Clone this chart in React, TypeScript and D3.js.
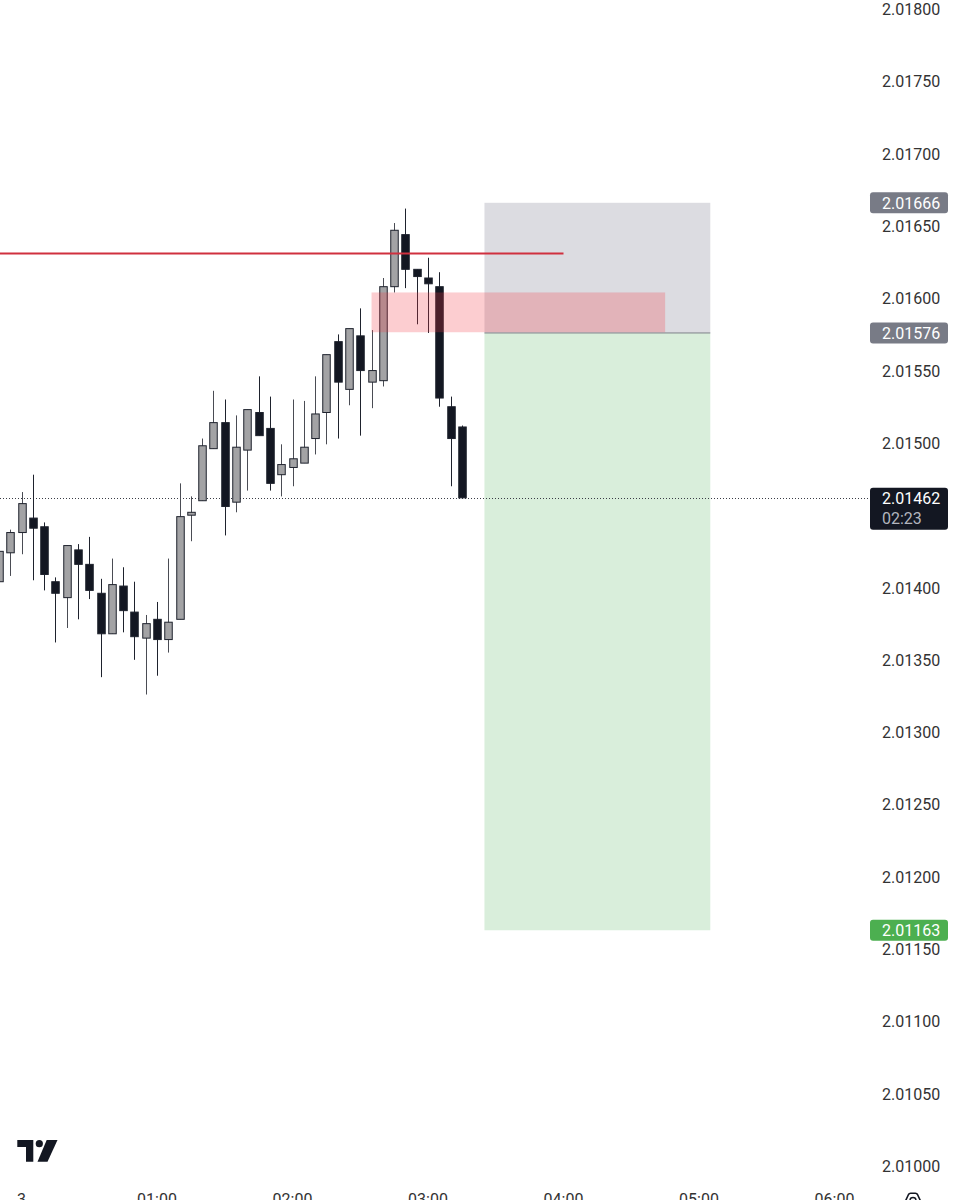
import React from "react";
import * as d3 from "d3";

// Candle index (5-minute bars; 0 = 00:00), OHLC prices
const candleIndex = [-2, -1, 0, 1, 2, 3, 4, 5, 6, 7, 8, 9, 10, 11, 12, 13, 14, 15, 16, 17, 18, 19, 20, 21, 22, 23, 24, 25, 26, 27, 28, 29, 30, 31, 32, 33, 34, 35, 36, 37, 38, 39];
const opens = [2.01404, 2.01424, 2.01438, 2.01448, 2.01442, 2.01404, 2.01393, 2.01426, 2.01416, 2.01396, 2.01368, 2.01401, 2.01383, 2.01365, 2.01378, 2.01364, 2.01378, 2.0145, 2.0146, 2.01496, 2.01514, 2.01459, 2.01495, 2.01521, 2.0151, 2.01478, 2.01483, 2.01486, 2.01503, 2.01521, 2.0157, 2.01537, 2.01574, 2.01542, 2.01543, 2.01608, 2.01644, 2.0162, 2.01614, 2.01608, 2.01525, 2.01511];
const highs = [2.01428, 2.0144, 2.01466, 2.01478, 2.01445, 2.01407, 2.01429, 2.0143, 2.01435, 2.01406, 2.0142, 2.01414, 2.01404, 2.01381, 2.0139, 2.0142, 2.01472, 2.01463, 2.01503, 2.01536, 2.0153, 2.01519, 2.01523, 2.01546, 2.01532, 2.01499, 2.0153, 2.01529, 2.01546, 2.01561, 2.01575, 2.01579, 2.01593, 2.01578, 2.01614, 2.01652, 2.01662, 2.0162, 2.01628, 2.01618, 2.01532, 2.01512];
const lows = [2.01401, 2.01408, 2.01423, 2.01405, 2.01398, 2.01362, 2.01372, 2.01378, 2.01392, 2.01338, 2.01368, 2.01369, 2.0135, 2.01326, 2.01339, 2.01355, 2.01378, 2.01432, 2.0146, 2.01496, 2.01436, 2.01452, 2.01467, 2.01505, 2.01467, 2.01463, 2.0147, 2.01486, 2.01492, 2.01499, 2.01503, 2.01526, 2.01505, 2.01524, 2.01539, 2.01604, 2.01607, 2.01582, 2.01576, 2.01525, 2.0147, 2.01462];
const closes = [2.01425, 2.01438, 2.01458, 2.01441, 2.01409, 2.01396, 2.01429, 2.01416, 2.01398, 2.01368, 2.01402, 2.01384, 2.01366, 2.01375, 2.01364, 2.01376, 2.01449, 2.01452, 2.01498, 2.01514, 2.01456, 2.01497, 2.01523, 2.01505, 2.01472, 2.01485, 2.01489, 2.01497, 2.0152, 2.01561, 2.01542, 2.01579, 2.0155, 2.0155, 2.01608, 2.01647, 2.0162, 2.01615, 2.0161, 2.01531, 2.01503, 2.01462];

// Price axis ticks
const priceTicks = [2.018, 2.0175, 2.017, 2.0165, 2.016, 2.0155, 2.015, 2.014, 2.0135, 2.013, 2.0125, 2.012, 2.0115, 2.011, 2.0105, 2.01];
// Time axis ticks (bar index) and labels
const timeTickIndex = [0, 12, 24, 36, 48, 60, 72];
const timeTickLabels = ["3", "01:00", "02:00", "03:00", "04:00", "05:00", "06:00"];

// Drawings
const resistanceLevel = 2.01631;
const resistanceEndIndex = 48;
const zoneTop = 2.01604;
const zoneBottom = 2.015765;
const zoneStartIndex = 31;
const zoneEndIndex = 57;
const stopPrice = 2.01666;
const entryPrice = 2.01576;
const targetPrice = 2.01163;
const positionStartIndex = 41;
const positionEndIndex = 61;
const lastPrice = 2.01462;
const countdown = "02:23";

const W = 955;
const H = 1200;
const plotRight = 870;

export default function App() {
  const y = d3.scaleLinear().domain([2.01, 2.018]).range([1166, 9]);
  const x = d3.scaleLinear().domain([0, 12]).range([21.5, 157]);
  const bodyW = 7.5;
  const font = "Roboto, 'Noto Sans', sans-serif";

  const candles = candleIndex.map((idx, k) => ({
    idx,
    o: opens[k],
    h: highs[k],
    l: lows[k],
    c: closes[k],
  }));

  const tag = (price: number, fill: string, label: string) => (
    <g key={label}>
      <rect x={870} y={y(price) - 10.5} width={78} height={21} rx={3} fill={fill} />
      <text x={882} y={y(price) + 6} fontSize={16} fill="#ffffff" fontFamily={font}>
        {label}
      </text>
    </g>
  );

  return (
    <svg
      width={W}
      height={H}
      style={{ position: "absolute", left: 0, top: 0, background: "#ffffff" }}
    >
      <rect x={0} y={0} width={W} height={H} fill="#ffffff" />
      <defs>
        <clipPath id="plot">
          <rect x={0} y={0} width={plotRight} height={1185} />
        </clipPath>
      </defs>

      <g clipPath="url(#plot)">
        {/* Position tool */}
        <rect
          x={x(positionStartIndex)}
          y={y(stopPrice)}
          width={x(positionEndIndex) - x(positionStartIndex)}
          height={y(entryPrice) - y(stopPrice)}
          fill="#dcdce1"
        />
        <rect
          x={x(positionStartIndex)}
          y={y(entryPrice)}
          width={x(positionEndIndex) - x(positionStartIndex)}
          height={y(targetPrice) - y(entryPrice)}
          fill="#d9eedb"
        />
        <line
          x1={x(positionStartIndex)}
          x2={x(positionEndIndex)}
          y1={y(entryPrice)}
          y2={y(entryPrice)}
          stroke="#7d8089"
          strokeWidth={1}
        />

        {/* Last price dotted line */}
        <line
          x1={0}
          x2={plotRight}
          y1={Math.round(y(lastPrice)) + 0.5}
          y2={Math.round(y(lastPrice)) + 0.5}
          stroke="#3a3d46"
          strokeWidth={1}
          strokeDasharray="1 2"
        />

        {/* Candles */}
        {candles.map((d) => {
          const up = d.c >= d.o;
          const cx = Math.round(x(d.idx)) + 0.5;
          const top = y(Math.max(d.o, d.c));
          const bot = y(Math.min(d.o, d.c));
          const bh = Math.max(bot - top, 2);
          return (
            <g key={d.idx}>
              <line
                x1={cx}
                x2={cx}
                y1={y(d.h)}
                y2={y(d.l)}
                stroke={up ? "#4a4c54" : "#1e222d"}
                strokeWidth={1}
              />
              <rect
                x={cx - bodyW / 2}
                y={top}
                width={bodyW}
                height={bh}
                fill={up ? "#a3a3a5" : "#131722"}
                stroke="#1e222d"
                strokeWidth={1}
              />
            </g>
          );
        })}

        {/* Zone */}
        <rect
          x={x(zoneStartIndex)}
          y={y(zoneTop)}
          width={x(zoneEndIndex) - x(zoneStartIndex)}
          height={y(zoneBottom) - y(zoneTop)}
          fill="rgba(242, 54, 69, 0.25)"
        />

        {/* Resistance line */}
        <line
          x1={0}
          x2={x(resistanceEndIndex)}
          y1={y(resistanceLevel)}
          y2={y(resistanceLevel)}
          stroke="#d0303f"
          strokeWidth={2}
        />
      </g>

      {/* Price axis labels */}
      {priceTicks.map((p) => (
        <text key={p} x={882} y={y(p) + 6} fontSize={16} fill="#333333" fontFamily={font}>
          {p.toFixed(5)}
        </text>
      ))}

      {/* Tags */}
      {tag(stopPrice, "#787b86", stopPrice.toFixed(5))}
      {tag(entryPrice, "#787b86", entryPrice.toFixed(5))}
      {tag(targetPrice, "#4caf50", targetPrice.toFixed(5))}
      <g>
        <rect x={870} y={y(lastPrice) - 10} width={78} height={42} rx={3} fill="#131722" />
        <text x={882} y={y(lastPrice) + 6} fontSize={16} fill="#ffffff" fontFamily={font}>
          {lastPrice.toFixed(5)}
        </text>
        <text x={882} y={y(lastPrice) + 26} fontSize={16} fill="#b2b5be" fontFamily={font}>
          {countdown}
        </text>
      </g>

      {/* Time axis labels (partly cut by the bottom edge, as in the reference) */}
      {timeTickIndex.map((t, k) => (
        <text
          key={t}
          x={x(t)}
          y={1205}
          fontSize={16}
          fill="#333333"
          fontFamily={font}
          textAnchor="middle"
        >
          {timeTickLabels[k]}
        </text>
      ))}

      {/* Bottom-right icon */}
      <path
        d="M905,1202 L908.5,1194.5 Q909.2,1193.2 910.6,1193.2 L915.4,1193.2 Q916.8,1193.2 917.5,1194.5 L921,1202"
        fill="none"
        stroke="#131722"
        strokeWidth={1.6}
      />
      <circle cx={913} cy={1200.5} r={3} fill="none" stroke="#131722" strokeWidth={1.4} />

      {/* TradingView logo */}
      <g fill="#131722">
        <path d="M17.3,1140 L33.3,1140 L33.3,1161.7 L26,1161.7 L26,1147 L17.3,1147 Z" />
        <circle cx={39.3} cy={1143.7} r={3.6} />
        <path d="M46.7,1140 L57.5,1140 L47.5,1161.7 L37.5,1161.7 Z" />
      </g>
    </svg>
  );
}
